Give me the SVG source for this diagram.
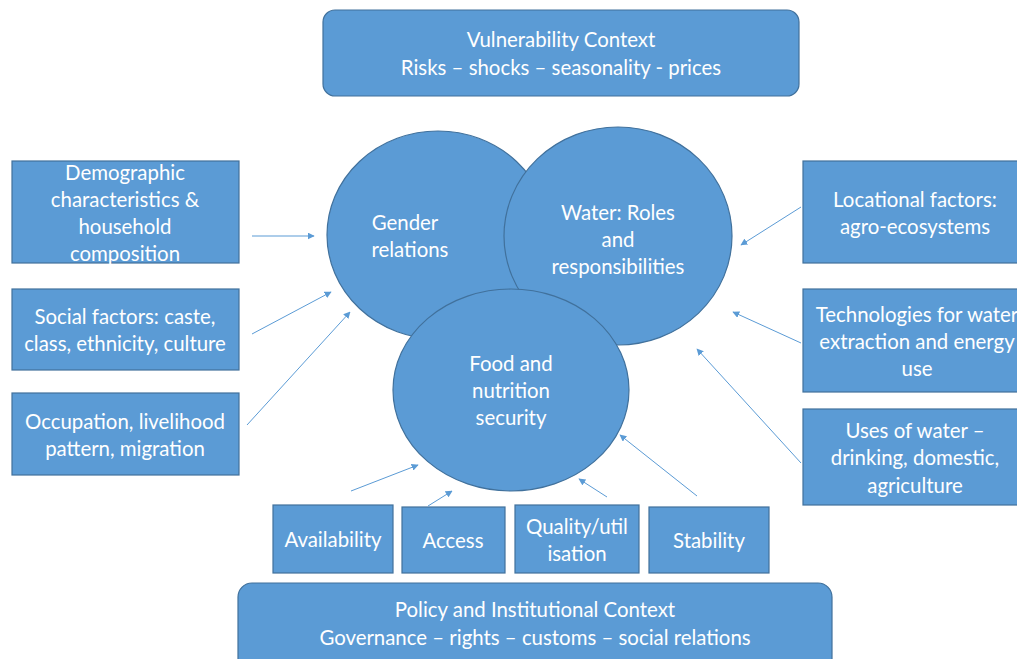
<svg xmlns="http://www.w3.org/2000/svg" width="1017" height="659" viewBox="0 0 1017 659">
<style>
.n{fill:#5B9BD5;stroke:#41719C;stroke-width:1.2}
.t{fill:#fff;font-family:Lato,"Liberation Sans",sans-serif;font-size:20.4px;text-anchor:middle}
.c{stroke:#5B9BD5;stroke-width:1;fill:none;marker-end:url(#ah)}
</style>
<defs>
<marker id="ah" viewBox="0 0 10 10" refX="9" refY="5" markerWidth="7" markerHeight="7" markerUnits="userSpaceOnUse" orient="auto">
<path d="M0,0 L10,5 L0,10 z" fill="#5B9BD5"/>
</marker>
</defs>
<rect width="1017" height="659" fill="#fff"/>
<g id="vulnerability"><rect class="n" x="323" y="10" width="476" height="86" rx="12"/>
<text class="t" x="561" y="47">Vulnerability Context</text><text class="t" x="561" y="75">Risks – shocks – seasonality - prices</text></g>
<g id="gender"><ellipse class="n" cx="438" cy="235" rx="111" ry="104"/>
<text class="t" x="405" y="230">Gender</text><text class="t" x="410" y="257">relations</text></g>
<g id="water"><ellipse class="n" cx="618" cy="236" rx="114" ry="109"/>
<text class="t" x="618" y="220">Water: Roles</text><text class="t" x="618" y="247">and</text><text class="t" x="618" y="274">responsibilities</text></g>
<g id="food"><ellipse class="n" cx="511" cy="390" rx="118" ry="101"/>
<text class="t" x="511" y="371">Food and</text><text class="t" x="511" y="398">nutrition</text><text class="t" x="511" y="425">security</text></g>
<g id="demographic"><rect class="n" x="12" y="161" width="227" height="102"/>
<text class="t" x="125" y="180">Demographic</text><text class="t" x="125" y="207">characteristics &amp;</text><text class="t" x="125" y="234">household</text><text class="t" x="125" y="261">composition</text></g>
<g id="social"><rect class="n" x="12" y="289" width="227" height="81"/>
<text class="t" x="125" y="324">Social factors: caste,</text><text class="t" x="125" y="351">class, ethnicity, culture</text></g>
<g id="occupation"><rect class="n" x="12" y="393" width="227" height="82"/>
<text class="t" x="125" y="429">Occupation, livelihood</text><text class="t" x="125" y="456">pattern, migration</text></g>
<g id="locational"><rect class="n" x="803" y="161" width="220" height="102"/>
<text class="t" x="915" y="207">Locational factors:</text><text class="t" x="915" y="234">agro-ecosystems</text></g>
<g id="technologies"><rect class="n" x="803" y="289" width="220" height="103"/>
<text class="t" x="917" y="322">Technologies for water</text><text class="t" x="917" y="349">extraction and energy</text><text class="t" x="917" y="376">use</text></g>
<g id="uses"><rect class="n" x="803" y="409" width="220" height="96"/>
<text class="t" x="915" y="438">Uses of water –</text><text class="t" x="915" y="465">drinking, domestic,</text><text class="t" x="915" y="493">agriculture</text></g>
<g id="availability"><rect class="n" x="273" y="505" width="120" height="68"/>
<text class="t" x="333" y="547">Availability</text></g>
<g id="access"><rect class="n" x="402" y="507" width="103" height="66"/>
<text class="t" x="453" y="548">Access</text></g>
<g id="quality"><rect class="n" x="515" y="505" width="124" height="68"/>
<text class="t" x="577" y="534">Quality/util</text><text class="t" x="577" y="561">isation</text></g>
<g id="stability"><rect class="n" x="649" y="507" width="120" height="66"/>
<text class="t" x="709" y="548">Stability</text></g>
<g id="policy"><rect class="n" x="238" y="583" width="594" height="90" rx="14"/>
<text class="t" x="535" y="617">Policy and Institutional Context</text><text class="t" x="535" y="645">Governance – rights – customs – social relations</text></g>
<g id="connectors">
<line class="c" x1="252" y1="236" x2="314" y2="236"/>
<line class="c" x1="252" y1="334" x2="331" y2="292"/>
<line class="c" x1="247" y1="425" x2="350" y2="312"/>
<line class="c" x1="801" y1="207" x2="741" y2="245"/>
<line class="c" x1="801" y1="343" x2="733" y2="312"/>
<line class="c" x1="801" y1="463" x2="697" y2="349"/>
<line class="c" x1="351" y1="491" x2="418" y2="465"/>
<line class="c" x1="428" y1="506" x2="452" y2="491"/>
<line class="c" x1="607" y1="497" x2="579" y2="479"/>
<line class="c" x1="697" y1="496" x2="620" y2="435"/>
</g>
</svg>
